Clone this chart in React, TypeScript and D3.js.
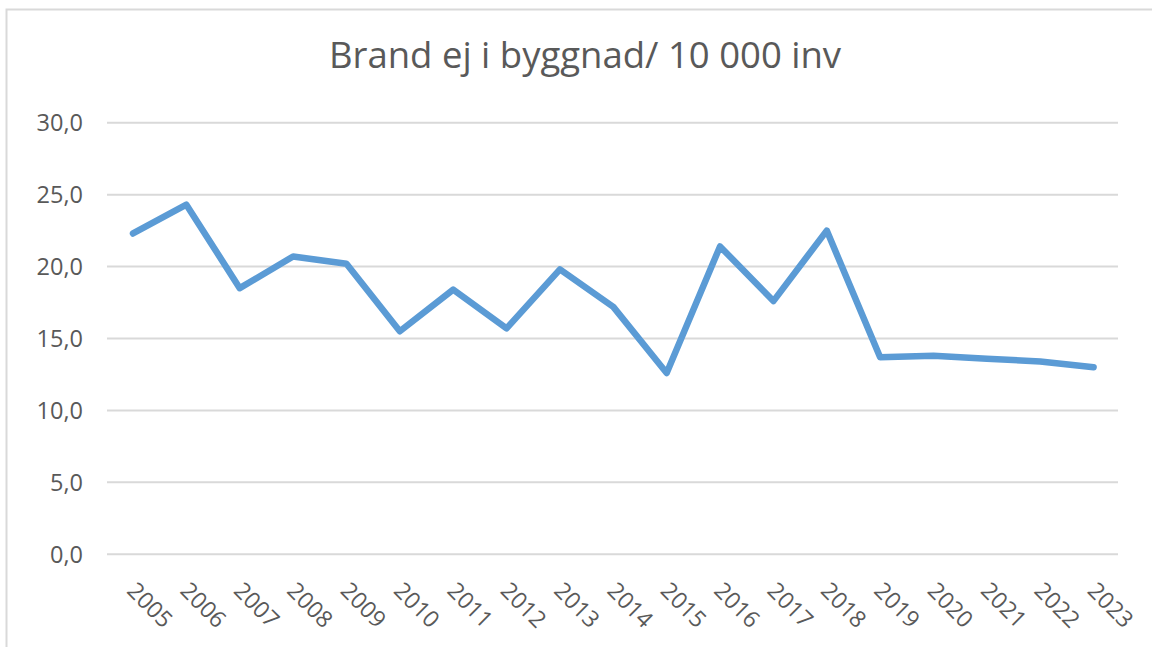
import * as React from 'react';
import * as d3 from 'd3';

const years = ['2005', '2006', '2007', '2008', '2009', '2010', '2011', '2012', '2013', '2014',
  '2015', '2016', '2017', '2018', '2019', '2020', '2021', '2022', '2023'];
const values = [22.3, 24.3, 18.5, 20.7, 20.2, 15.5, 18.4, 15.7, 19.8, 17.2,
  12.6, 21.4, 17.6, 22.5, 13.7, 13.8, 13.6, 13.4, 13.0];
const yTicks = [0, 5, 10, 15, 20, 25, 30];
const title = 'Brand ej i byggnad/ 10 000 inv';

const W = 1152;
const H = 647;
const FONT = '"Open Sans", sans-serif';

export default function App() {
  const ref = React.useRef<SVGSVGElement>(null);

  React.useEffect(() => {
    const svg = d3.select(ref.current);
    svg.selectAll('*').remove();

    const x = d3.scalePoint<string>().domain(years).range([133, 1093.6]);
    const y = d3.scaleLinear().domain([0, 30]).range([554.3, 122.7]);

    svg.append('rect')
      .attr('x', 6.5).attr('y', 9.5)
      .attr('width', 1170).attr('height', 660)
      .attr('fill', '#fff')
      .attr('stroke', '#d9d9d9').attr('stroke-width', 2);

    svg.append('text')
      .attr('x', 585).attr('y', 68)
      .attr('text-anchor', 'middle')
      .attr('font-family', FONT).attr('font-size', 36.5)
      .attr('fill', '#595959')
      .text(title);

    const grid = svg.append('g');
    grid.selectAll('line')
      .data(yTicks)
      .enter()
      .append('line')
      .attr('x1', 107).attr('x2', 1118)
      .attr('y1', d => y(d)).attr('y2', d => y(d))
      .attr('stroke', '#d9d9d9').attr('stroke-width', 2);

    svg.append('g').selectAll('text')
      .data(yTicks)
      .enter()
      .append('text')
      .attr('x', 83).attr('y', d => y(d))
      .attr('dy', '0.35em')
      .attr('text-anchor', 'end')
      .attr('font-family', FONT).attr('font-size', 23.5)
      .attr('fill', '#595959')
      .text(d => d.toFixed(1).replace('.', ','));

    svg.append('g').selectAll('text')
      .data(years)
      .enter()
      .append('text')
      .attr('transform', d => `translate(${(x(d) as number) + 17}, 605) rotate(45)`)
      .attr('dy', '0.35em')
      .attr('text-anchor', 'middle')
      .attr('font-family', FONT).attr('font-size', 23)
      .attr('fill', '#595959')
      .text(d => d);

    const line = d3.line<number>()
      .x((_, i) => x(years[i]) as number)
      .y(d => y(d));

    svg.append('path')
      .datum(values)
      .attr('d', line)
      .attr('fill', 'none')
      .attr('stroke', '#5b9bd5')
      .attr('stroke-width', 6.5)
      .attr('stroke-linejoin', 'round')
      .attr('stroke-linecap', 'round');
  }, []);

  return (
    <svg ref={ref} width={W} height={H}
      style={{ position: 'absolute', left: 0, top: 0, background: '#fff' }} />
  );
}
